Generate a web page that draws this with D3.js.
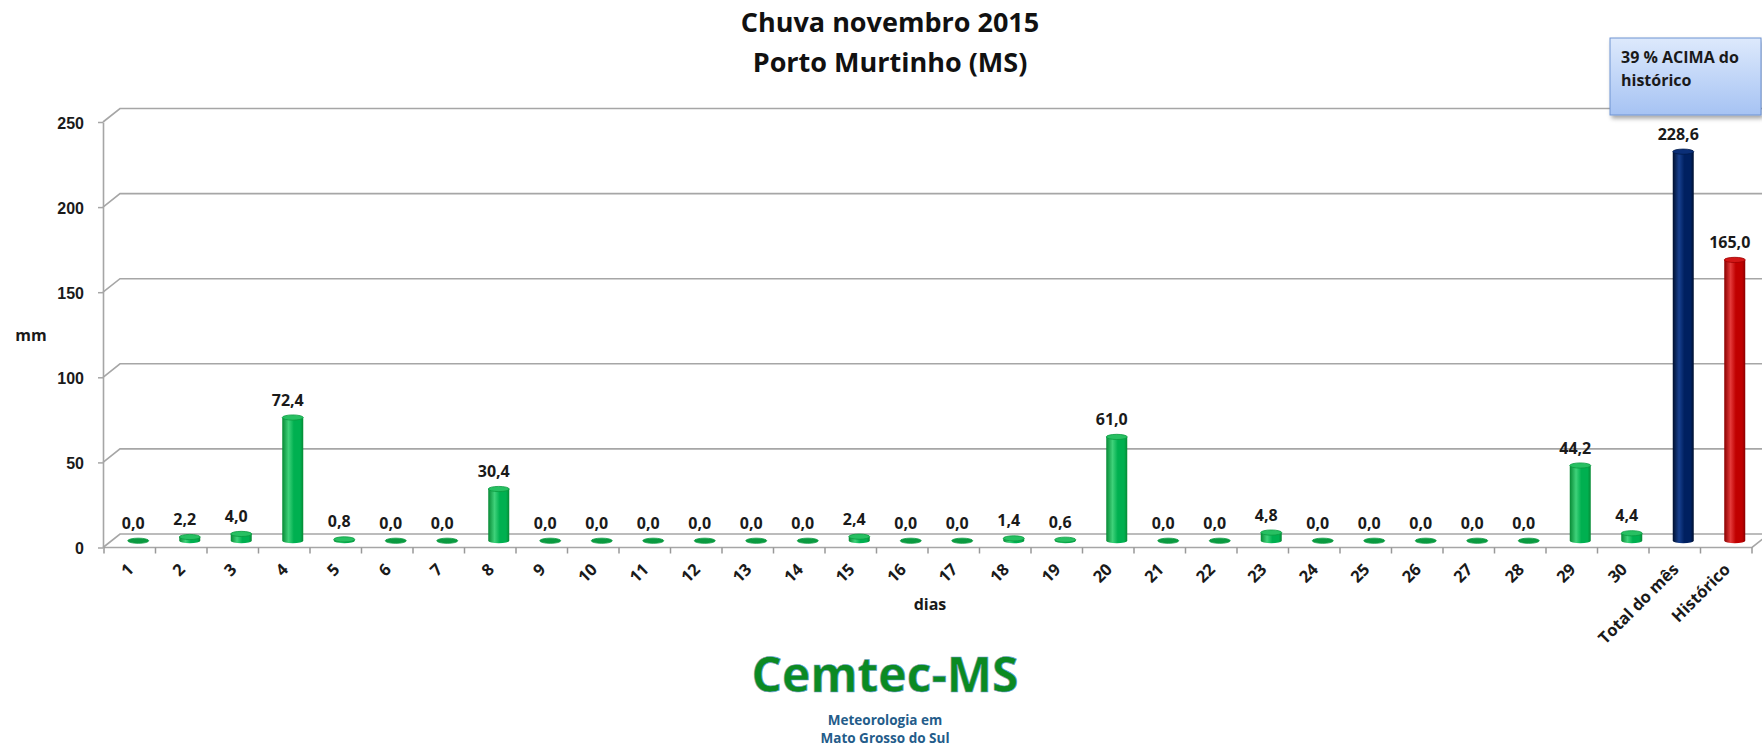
<!DOCTYPE html>
<meta charset="utf-8">
<style>
  body { margin: 0; background: #fff; }
  svg { display: block; font-family: "Open Sans", sans-serif; font-weight: bold; }
  .grid { stroke: #a6a6a6; stroke-width: 1.6; fill: none; }
  .ytick text { font-size: 16px; fill: #1a1a1a; }
  .xlab { font-size: 16.5px; fill: #1a1a1a; }
  .dlab { font-size: 16px; fill: #1a1a1a; }
</style>
<body>
</body>
<script src="https://cdn.jsdelivr.net/npm/d3@7"></script>
<script>
  const categories = [
    "1", "2", "3", "4", "5", "6", "7", "8", "9", "10",
    "11", "12", "13", "14", "15", "16", "17", "18", "19", "20",
    "21", "22", "23", "24", "25", "26", "27", "28", "29", "30",
    "Total do mês", "Histórico"
  ];
  const values = [
    0.0, 2.2, 4.0, 72.4, 0.8, 0.0, 0.0, 30.4, 0.0, 0.0,
    0.0, 0.0, 0.0, 0.0, 2.4, 0.0, 0.0, 1.4, 0.6, 61.0,
    0.0, 0.0, 4.8, 0.0, 0.0, 0.0, 0.0, 0.0, 44.2, 4.4,
    228.6, 165.0
  ];
  const barKind = Array(30).fill('green').concat(['navy', 'red']);
  const yTicks = [0, 50, 100, 150, 200, 250];
  const titleLines = ['Chuva novembro 2015', 'Porto Murtinho (MS)'];
  const calloutLines = ['39 % ACIMA do', 'histórico'];

  const w = 1762, h = 749;
  const left = 104, right = 1752;
  const depth = {dx: 17, dy: -13.5};   // 3d depth of the floor / back wall

  const fmt = d3.formatLocale({decimal: ',', thousands: '.', grouping: [3], currency: ['R$', '']}).format('.1f');

  const x = d3.scaleBand().domain(categories).range([left, right]).padding(0);
  const y = d3.scaleLinear().domain([0, 250]).range([547.5, 122]);

  const svg = d3.select('body').append('svg')
    .attr('width', w)
    .attr('height', h);

  const defs = svg.append('defs');

  const pals = {
    green: {edge: '#078a35', mid: '#00b050', hi: '#3fd27a', top: '#27c062', rim: '#0a9a40'},
    navy:  {edge: '#00102f', mid: '#002060', hi: '#17408f', top: '#0b2f78', rim: '#001a4a'},
    red:   {edge: '#8a0000', mid: '#c00000', hi: '#e43a3a', top: '#d21616', rim: '#a00000'}
  };
  Object.entries(pals).forEach(([k, p]) => {
    const gr = defs.append('linearGradient').attr('id', `cyl-${k}`)
      .attr('x1', 0).attr('x2', 1).attr('y1', 0).attr('y2', 0);
    [[0, p.edge], [0.3, p.hi], [0.55, p.mid], [0.85, p.mid], [1, p.edge]].forEach(([o, c]) =>
      gr.append('stop').attr('offset', o).attr('stop-color', c));
  });

  const cg = defs.append('linearGradient').attr('id', 'callout')
    .attr('x1', 0).attr('x2', 0).attr('y1', 0).attr('y2', 1);
  cg.append('stop').attr('offset', 0).attr('stop-color', '#dde9fc');
  cg.append('stop').attr('offset', 1).attr('stop-color', '#a6c3f3');

  defs.append('filter').attr('id', 'shadow')
    .attr('x', -0.1).attr('y', -0.1).attr('width', 1.3).attr('height', 1.4)
    .append('feDropShadow')
    .attr('dx', 2).attr('dy', 3).attr('stdDeviation', 2)
    .attr('flood-color', '#000').attr('flood-opacity', 0.35);

  // title
  svg.append('g').selectAll('text')
    .data(titleLines)
    .join('text')
    .attr('x', 890)
    .attr('y', (d, i) => 32 + i * 40)
    .attr('text-anchor', 'middle')
    .attr('font-size', 27)
    .attr('fill', '#111')
    .text(d => d);

  // back wall gridlines
  svg.append('g').selectAll('path')
    .data(yTicks)
    .join('path')
    .attr('class', 'grid')
    .attr('d', d => `M${left - 1},${y(d)} L${left - 1 + depth.dx},${y(d) + depth.dy} L${w + 10},${y(d) + depth.dy}`);

  // floor front edge
  svg.append('path')
    .attr('class', 'grid')
    .attr('d', `M${left},${y(0)} L${right},${y(0)} L${right + depth.dx},${y(0) + depth.dy}`);

  // category tick marks
  svg.append('g').selectAll('line')
    .data(d3.range(categories.length + 1))
    .join('line')
    .attr('x1', i => left + i * x.bandwidth()).attr('x2', i => left + i * x.bandwidth())
    .attr('y1', y(0)).attr('y2', y(0) + 6)
    .attr('stroke', '#999').attr('stroke-width', 1.5);

  // y axis
  const yAxis = svg.append('g')
    .attr('class', 'ytick')
    .attr('transform', `translate(${left - 1},0)`)
    .call(d3.axisLeft(y).tickValues(yTicks).tickSize(5).tickPadding(14).tickSizeOuter(0));
  yAxis.select('.domain').attr('stroke', '#a6a6a6').attr('stroke-width', 1.6);
  yAxis.selectAll('.tick line').attr('stroke', '#a6a6a6').attr('stroke-width', 1.5);
  yAxis.selectAll('text').attr('font-family', null).attr('font-size', null).attr('dy', '0.38em');

  svg.append('text')
    .attr('x', 31).attr('y', 341)
    .attr('text-anchor', 'middle')
    .attr('font-size', 16).attr('fill', '#1a1a1a')
    .text('mm');

  // cylinders
  const rx = 10.5, ry = 2.6;
  const bars = svg.append('g').selectAll('g')
    .data(categories.map((c, i) => ({c, v: values[i], k: barKind[i]})))
    .join('g');

  const cx = d => x(d.c) + x.bandwidth() / 2 + depth.dx / 2;
  const base = y(0) + depth.dy / 2;
  const topY = d => y(d.v) + depth.dy / 2;

  bars.filter(d => d.v > 0).append('path')
    .attr('d', d => `M${cx(d) - rx},${topY(d)} L${cx(d) - rx},${base} A${rx},${ry} 0 0 0 ${cx(d) + rx},${base} L${cx(d) + rx},${topY(d)} Z`)
    .attr('fill', d => `url(#cyl-${d.k})`);

  bars.append('ellipse')
    .attr('cx', cx)
    .attr('cy', topY)
    .attr('rx', rx).attr('ry', ry)
    .attr('fill', d => d.v > 0 ? pals[d.k].top : pals[d.k].rim)
    .attr('stroke', d => pals[d.k].rim)
    .attr('stroke-width', 0.8);

  // data labels
  bars.append('text')
    .attr('class', 'dlab')
    .attr('x', d => cx(d) - 5)
    .attr('y', d => topY(d) - 12)
    .attr('text-anchor', 'middle')
    .text(d => fmt(d.v));

  // category labels
  svg.append('g').selectAll('text')
    .data(categories)
    .join('text')
    .attr('class', 'xlab')
    .attr('text-anchor', 'end')
    .attr('transform', d => `translate(${x(d) + x.bandwidth() / 2 + 5},${y(0) + 23}) rotate(-45)`)
    .text(d => d);

  svg.append('text')
    .attr('x', 930).attr('y', 610)
    .attr('text-anchor', 'middle')
    .attr('font-size', 16).attr('fill', '#1a1a1a')
    .text('dias');

  // callout
  const co = svg.append('g');
  co.append('rect')
    .attr('x', 1610).attr('y', 38).attr('width', 151).attr('height', 77)
    .attr('fill', 'url(#callout)')
    .attr('stroke', '#6f93d2').attr('stroke-width', 1)
    .attr('filter', 'url(#shadow)');
  co.selectAll('text')
    .data(calloutLines)
    .join('text')
    .attr('x', 1621).attr('y', (d, i) => 63 + i * 23)
    .attr('font-size', 16).attr('fill', '#1a1a1a')
    .text(d => d);

  // logo
  svg.append('text')
    .attr('x', 885).attr('y', 692)
    .attr('text-anchor', 'middle')
    .attr('font-size', 48)
    .attr('fill', '#0b8a22')
    .attr('stroke', '#6f9fd0').attr('stroke-width', 0.6)
    .text('Cemtec-MS');
  svg.append('g').selectAll('text')
    .data(['Meteorologia em', 'Mato Grosso do Sul'])
    .join('text')
    .attr('x', 885).attr('y', (d, i) => 725 + i * 18)
    .attr('text-anchor', 'middle')
    .attr('font-size', 13.5)
    .attr('fill', '#245c8a')
    .text(d => d);
</script>
